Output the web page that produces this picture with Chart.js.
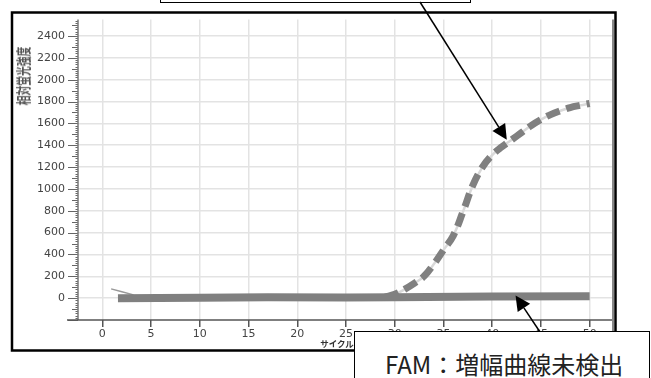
<!DOCTYPE html>
<html>
<head>
<meta charset="utf-8">
<script src="https://cdn.jsdelivr.net/npm/chart.js@4"></script>
<style>
  html, body { margin: 0; padding: 0; background: #fff; }
  #wrap { position: relative; width: 651px; height: 378px; overflow: hidden; }
  #chart { position: absolute; left: 0; top: 0; }
  .box { position: absolute; border: 1.5px solid #000; background: #fff; box-sizing: border-box; }
  #boxTop { left: 160px; top: -30px; width: 311px; height: 33px; background: transparent; }
  #boxBottom { left: 354px; top: 331px; width: 296px; height: 70px; padding: 20px 0 0 30px;
    font: 24px "Noto Sans CJK JP"; line-height: 24px; color: #222; white-space: nowrap; }
  #yTitle { position: absolute; left: -24px; top: 67px; width: 90px; height: 18px; line-height: 18px;
    text-align: center; font: bold 15px "Noto Sans CJK JP"; color: #555;
    white-space: nowrap; transform: rotate(-90deg) scaleX(0.65); }
  #xTitle { position: absolute; left: 317px; top: 337px; width: 40px; height: 12px; line-height: 12px;
    text-align: center; font: bold 8.5px "Noto Sans CJK JP"; color: #333; white-space: nowrap; }
</style>
</head>
<body>
<div id="wrap">
  <canvas id="chart" width="651" height="378"></canvas>
  <div id="yTitle">相対蛍光強度</div>
  <div id="xTitle">サイクル</div>
  <div class="box" id="boxTop"></div>
  <div class="box" id="boxBottom">FAM：増幅曲線未検出</div>
</div>
<script>
// ── data
const xTicks = [0, 5, 10, 15, 20, 25, 30, 35, 40, 45, 50];
const yTicks = [0, 200, 400, 600, 800, 1000, 1200, 1400, 1600, 1800, 2000, 2200, 2400];

// FAM (no amplification) – flat thick line
const famCycles = [1.6, 10, 17, 25, 30, 40, 50];
const famValues = [0, 4, 9, 7, 8, 14, 18];

// thin start of the reference trace
const startCycles = [0.9, 2, 3.2];
const startValues = [85, 58, 30];

// amplification curve
const ampCycles = [29, 30, 31, 32, 33, 34, 35, 36, 37, 38, 39, 40, 41, 42, 43, 44, 45, 46, 47, 48, 49, 50];
const ampValues = [10, 35, 80, 135, 200, 310, 440, 570, 790, 1030, 1200, 1310, 1385, 1450, 1515, 1580, 1635, 1680, 1715, 1745, 1765, 1782];

const pts = (xs, ys) => xs.map((x, i) => ({ x, y: ys[i] }));

const tickFont = { family: "DejaVu Sans", size: 11 };

// axis lines, ruler ticks, frame, arrows
const decor = {
  id: "decor",
  afterDraw(chart) {
    const { ctx, chartArea: a, scales } = chart;
    const xs = scales.x, ys = scales.y;
    ctx.save();

    // y ruler ticks
    ctx.strokeStyle = "#666";
    ctx.lineWidth = 1;
    for (let v = -200; v <= 2540; v += 20) {
      const y = Math.round(ys.getPixelForValue(v)) + 0.5;
      const len = v % 200 === 0 ? 10 : v % 100 === 0 ? 6 : 2.5;
      ctx.beginPath();
      ctx.moveTo(a.left - len, y);
      ctx.lineTo(a.left, y);
      ctx.stroke();
    }
    // y axis line
    ctx.strokeStyle = "#777";
    ctx.lineWidth = 1.5;
    ctx.beginPath();
    ctx.moveTo(a.left, a.top);
    ctx.lineTo(a.left, a.bottom);
    ctx.stroke();
    // x axis line
    ctx.strokeStyle = "#555";
    ctx.beginPath();
    ctx.moveTo(a.left - 11, a.bottom);
    ctx.lineTo(a.right, a.bottom);
    ctx.stroke();
    // right plot edge
    ctx.strokeStyle = "#888";
    ctx.lineWidth = 2;
    ctx.beginPath();
    ctx.moveTo(a.right - 1, a.top);
    ctx.lineTo(a.right - 1, 350);
    ctx.stroke();
    // outer frame
    ctx.strokeStyle = "#000";
    ctx.lineWidth = 2.5;
    ctx.strokeRect(12, 12.5, 603.5, 338);

    // arrows
    const arrow = (x0, y0, x1, y1) => {
      const ang = Math.atan2(y1 - y0, x1 - x0);
      const L = 15, W = 7.5;
      const bx = x1 - L * Math.cos(ang), by = y1 - L * Math.sin(ang);
      ctx.strokeStyle = "#000";
      ctx.fillStyle = "#000";
      ctx.lineWidth = 1.5;
      ctx.beginPath();
      ctx.moveTo(x0, y0);
      ctx.lineTo(bx, by);
      ctx.stroke();
      ctx.beginPath();
      ctx.moveTo(x1, y1);
      ctx.lineTo(bx + W * Math.sin(ang), by - W * Math.cos(ang));
      ctx.lineTo(bx - W * Math.sin(ang), by + W * Math.cos(ang));
      ctx.closePath();
      ctx.fill();
    };
    arrow(420, 2, xs.getPixelForValue(41.5), ys.getPixelForValue(1450));
    arrow(540, 332, xs.getPixelForValue(42.4), ys.getPixelForValue(25));

    ctx.restore();
  },
};

new Chart(document.getElementById("chart"), {
  type: "line",
  data: {
    datasets: [
      {
        data: pts(startCycles, startValues),
        borderColor: "#999",
        borderWidth: 1.5,
        pointRadius: 0,
        order: 4,
      },
      {
        data: pts(ampCycles, ampValues),
        borderColor: "#d9d9d9",
        borderWidth: 2.5,
        pointRadius: 0,
        tension: 0.4,
        order: 3,
      },
      {
        data: pts(famCycles, famValues),
        borderColor: "#808080",
        borderWidth: 8,
        borderCapStyle: "butt",
        pointRadius: 0,
        order: 2,
      },
      {
        data: pts(ampCycles, ampValues),
        borderColor: "#808080",
        borderWidth: 7,
        borderDash: [14, 7],
        borderCapStyle: "butt",
        pointRadius: 0,
        tension: 0.4,
        order: 1,
      },
    ],
  },
  options: {
    responsive: false,
    animation: false,
    layout: { padding: { top: 12, right: 37, left: 0, bottom: 0 } },
    plugins: { legend: { display: false }, tooltip: { enabled: false } },
    scales: {
      x: {
        type: "linear",
        min: -2.5,
        max: 52.5,
        afterBuildTicks: (s) => { s.ticks = xTicks.map((v) => ({ value: v })); },
        afterFit: (s) => { s.height = 58; },
        grid: { color: "#e3e3e3", lineWidth: 1.5, tickColor: "#555", tickLength: 7, tickWidth: 1.5 },
        border: { display: false },
        ticks: { font: tickFont, color: "#444", padding: 1, maxRotation: 0, autoSkip: false,
          callback: (v) => String(v) },
      },
      y: {
        type: "linear",
        min: -200,
        max: 2550,
        afterBuildTicks: (s) => { s.ticks = yTicks.map((v) => ({ value: v })); },
        afterFit: (s) => { s.width = 78; },
        grid: { color: "#e3e3e3", lineWidth: 1.5, drawTicks: false },
        border: { display: false },
        ticks: { font: tickFont, color: "#444", padding: 13, autoSkip: false,
          callback: (v) => String(v) },
      },
    },
  },
  plugins: [decor],
});
</script>
</body>
</html>
